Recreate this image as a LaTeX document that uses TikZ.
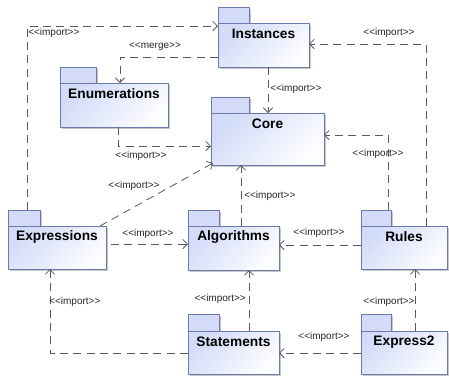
\documentclass[tikz,border=0pt]{standalone}
\usepackage{fontspec}
\setmainfont{Liberation Sans}
\usetikzlibrary{arrows.meta,calc,shadows}
\definecolor{pkgA}{HTML}{D2DBF8}
\definecolor{pkgB}{HTML}{FCFDFF}
\definecolor{pkgtabc}{HTML}{D3DBF8}
\definecolor{pkgline}{HTML}{6B7AAA}
\definecolor{depline}{HTML}{5A5A5A}
\tikzset{
  pkgbox/.style={draw=pkgline, line width=0.6pt, top color=pkgA, bottom color=pkgB, shading angle=45,
    inner sep=0pt, outer sep=0pt, drop shadow={shadow xshift=1.5pt, shadow yshift=-1.5pt, fill=black!22, opacity=1}},
  tabbox/.style={draw=pkgline, line width=0.6pt, fill=pkgtabc, inner sep=0pt, outer sep=0pt,
    drop shadow={shadow xshift=1.5pt, shadow yshift=-1.5pt, fill=black!22, opacity=1}},
  pkgname/.style={font=\fontsize{10.3}{12}\selectfont\bfseries, inner sep=0pt},
  dep/.style={draw=depline, line width=0.6pt, dash pattern=on 6pt off 4pt,
    -{Straight Barb[length=3.5pt,width=7pt]}},
  lbl/.style={font=\fontsize{7.5}{8}\selectfont, inner sep=0pt, text=black!85}
}
\newcommand{\umlpkg}[8]{%
  \node[tabbox, anchor=south west, minimum width=#6*0.75pt, minimum height=#7*0.75pt] (#1tab) at (#2,#3) {};
  \node[pkgbox, anchor=north west, minimum width=#4*0.75pt, minimum height=#5*0.75pt] (#1) at (#2,#3) {};
  \node[pkgname] (#1name) at ($(#1.north)+(0,11)$) {#8};
}
\newcommand{\imp}{{<}{<}import{>}{>}}
\begin{document}
\begin{tikzpicture}[x=0.75pt,y=-0.75pt]
\useasboundingbox (0,0) rectangle (449,376);
\umlpkg{Inst}{218}{23}{91}{44}{31}{16}{Instances}
\umlpkg{Enum}{60}{83}{108}{44}{36}{16}{Enumerations}
\umlpkg{Core}{211}{113}{113}{52}{38}{16}{Core}
\umlpkg{Expr}{8}{226}{98}{43}{32}{16}{Expressions}
\umlpkg{Algo}{188}{226}{91}{44}{31}{16}{Algorithms}
\umlpkg{Rules}{361}{226}{86}{43}{30}{16}{Rules}
\umlpkg{Stat}{188}{331}{91}{43}{31}{17}{Statements}
\umlpkg{Exp2}{361}{331}{86}{43}{30}{17}{Express2}

% 1 Expressions -> Instances
\draw[dep] ($(Exprtab.north)+(3,0)$) |- ($(Inst.north west)+(0,3)$);
\node[lbl, anchor=west] (l1) at (28,33) {\imp};
% 2 Instances -> Enumerations (merge)
\draw[dep] ($(Inst.south west)+(0,-10)$) -| ($(Enum.north west)+(60,0)$);
\node[lbl] (l2) at (155,47) {{<}{<}merge{>}{>}};
% 3 Enumerations -> Core
\draw[dep] ($(Enum.south west)+(58,0)$) |- ($(Core.north west)+(0,33)$);
\node[lbl] (l3) at (141,156) {\imp};
% 4 Expressions -> Core
\draw[dep] ($(Expr.north east)+(-6,0)$) -- ($(Core.south west)+(2,-2)$);
\node[lbl] (l4) at (134,186) {\imp};
% 5 Instances -> Core
\draw[dep] ($(Inst.south west)+(50,0)$) coordinate (s5) -- (s5 |- Core.north);
\node[lbl, anchor=west] (l5) at (270,89) {\imp};
% 6 Rules -> Instances
\draw[dep] ($(Rules.north west)+(65,0)$) |- ($(Inst.north east)+(0,21)$);
\node[lbl] (l6) at (389,33) {\imp};
% 7 Rules -> Core
\draw[dep] ($(Rulestab.north west)+(27,0)$) |- ($(Core.north east)+(0,22)$);
\node[lbl] (l7) at (378,154) {\imp};
% 8 Algorithms -> Core
\draw[dep] ($(Algo.north west)+(53,0)$) coordinate (s8) -- (s8 |- Core.south);
\node[lbl, anchor=west] (l8) at (244,196) {\imp};
% 9 Expressions -> Algorithms
\draw[dep] ($(Expr.north east)+(5,18)$) coordinate (s9) -- (s9 -| Algo.west);
\node[lbl] (l9) at (148,234) {\imp};
% 10 Rules -> Algorithms
\draw[dep] ($(Rules.north west)+(0,19)$) coordinate (s10) -- (s10 -| Algo.east);
\node[lbl] (l10) at (319,233) {\imp};
% 11 Statements -> Expressions
\draw[dep] ($(Stat.north west)+(0,22)$) -| ($(Expr.south west)+(42,0)$);
\node[lbl, anchor=west] (l11) at (49,302) {\imp};
% 12 Statements -> Algorithms
\draw[dep] ($(Stat.north west)+(61,0)$) coordinate (s12) -- (s12 |- Algo.south);
\node[lbl, anchor=east] (l12) at (246,299) {\imp};
% 13 Express2 -> Rules
\draw[dep] ($(Exp2.north west)+(54,0)$) coordinate (s13) -- (s13 |- Rules.south);
\node[lbl] (l13) at (389,302) {\imp};
% 14 Express2 -> Statements
\draw[dep] ($(Exp2.north west)+(0,22)$) coordinate (s14) -- (s14 -| Stat.east);
\node[lbl] (l14) at (324,337) {\imp};
\end{tikzpicture}
\end{document}
